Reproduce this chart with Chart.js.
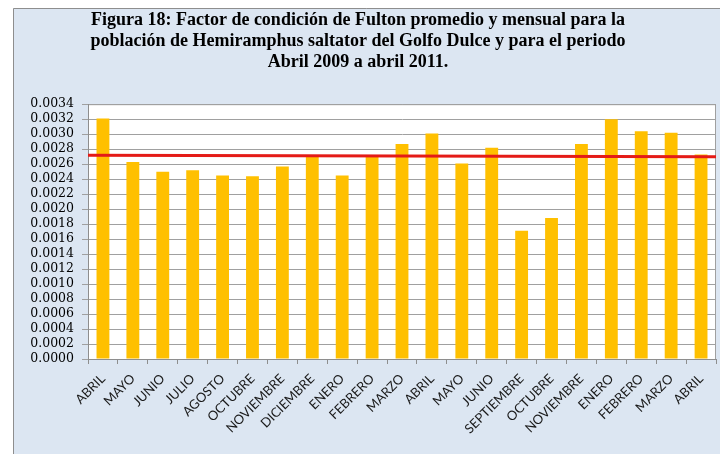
<!DOCTYPE html>
<html>
<head>
<meta charset="utf-8">
<script src="https://cdn.jsdelivr.net/npm/chart.js"></script>
<style>
  body { margin: 0; background: #fff; }
  #wrap { width: 720px; height: 454px; }
</style>
</head>
<body>
<div id="wrap"><canvas id="myChart" width="720" height="454"></canvas></div>
<script>
"use strict";

// months on the x axis (abril 2009 - abril 2011)
var months = ['ABRIL', 'MAYO', 'JUNIO', 'JULIO', 'AGOSTO', 'OCTUBRE', 'NOVIEMBRE', 'DICIEMBRE',
  'ENERO', 'FEBRERO', 'MARZO', 'ABRIL', 'MAYO', 'JUNIO', 'SEPTIEMBRE', 'OCTUBRE', 'NOVIEMBRE',
  'ENERO', 'FEBRERO', 'MARZO', 'ABRIL'];

// monthly Fulton factor
var fulton = [0.00321, 0.00263, 0.00250, 0.00252, 0.00245, 0.00244, 0.00257, 0.00271,
  0.00245, 0.00270, 0.00287, 0.00301, 0.00261, 0.00282, 0.00171, 0.00188, 0.00287,
  0.00320, 0.00304, 0.00302, 0.00273];

// average line, value at left and right edge of the plot
var promedio = [0.00272, 0.00270];

var yMin = 0;
var yMax = 0.0034;
var yStep = 0.0002;

var titleLines = [
  'Figura 18: Factor de condición de Fulton promedio y mensual para la',
  'población de Hemiramphus saltator del Golfo Dulce y para el periodo',
  'Abril 2009 a abril 2011.'
];

// excel style backgrounds
var backgrounds = {
  id: 'backgrounds',
  beforeDraw: function (chart) {
    var c = chart.ctx;
    var a = chart.chartArea;
    c.save();
    c.fillStyle = '#ffffff';
    c.fillRect(0, 0, chart.width, chart.height);
    c.fillStyle = '#dce6f2';
    c.fillRect(13, 8, chart.width - 13, chart.height - 8);
    c.strokeStyle = '#8e8e8e';
    c.lineWidth = 1;
    c.beginPath();
    c.moveTo(13.5, chart.height);
    c.lineTo(13.5, 8.5);
    c.lineTo(chart.width, 8.5);
    c.stroke();
    c.fillStyle = '#ffffff';
    c.fillRect(a.left, a.top, a.right - a.left, a.bottom - a.top);
    c.strokeStyle = '#a0a0a0';
    c.strokeRect(a.left + 0.5, a.top + 0.5, a.right - a.left - 1, a.bottom - a.top);
    c.restore();
  }
};

// red average line across the whole plot, placed with the y scale
var averageLine = {
  id: 'averageLine',
  afterDatasetsDraw: function (chart) {
    var c = chart.ctx;
    var a = chart.chartArea;
    var y = chart.scales.y;
    c.save();
    c.strokeStyle = '#e41b17';
    c.lineWidth = 3;
    c.beginPath();
    c.moveTo(a.left, y.getPixelForValue(promedio[0]));
    c.lineTo(a.right, y.getPixelForValue(promedio[1]));
    c.stroke();
    c.restore();
  }
};

var ctx = document.getElementById('myChart').getContext('2d');

var chart = new Chart(ctx, {
  type: 'bar',
  data: {
    labels: months,
    datasets: [{
      data: fulton,
      backgroundColor: '#ffc000',
      barPercentage: 0.43,
      categoryPercentage: 1
    }]
  },
  options: {
    responsive: false,
    animation: false,
    layout: { padding: { left: 0, right: 4, top: 0, bottom: 0 } },
    plugins: {
      legend: { display: false },
      tooltip: { enabled: false },
      title: {
        display: true,
        text: titleLines,
        color: '#000',
        font: { family: 'Liberation Serif', size: 18, weight: 'bold', lineHeight: 1.17 },
        padding: { top: 10, bottom: 31 }
      }
    },
    scales: {
      x: {
        offset: true,
        grid: { offset: true, drawOnChartArea: false, color: '#8e8e8e', tickLength: 5 },
        border: { color: '#8e8e8e' },
        ticks: {
          color: '#1a1a1a',
          font: { family: 'Lato', size: 13 },
          minRotation: 45,
          maxRotation: 45,
          autoSkip: false,
          padding: 7
        },
        afterFit: function (s) { s.height = 95; }
      },
      y: {
        min: yMin,
        max: yMax,
        ticks: {
          stepSize: yStep,
          autoSkip: false,
          color: '#000',
          font: { family: 'DejaVu Serif', size: 12.5 },
          padding: 8,
          callback: function (v) { return v.toFixed(4); }
        },
        grid: { color: '#a0a0a0', tickLength: 6 },
        border: { color: '#8e8e8e' },
        afterFit: function (s) { s.width = 88; }
      }
    }
  },
  plugins: [backgrounds, averageLine]
});
</script>
</body>
</html>
